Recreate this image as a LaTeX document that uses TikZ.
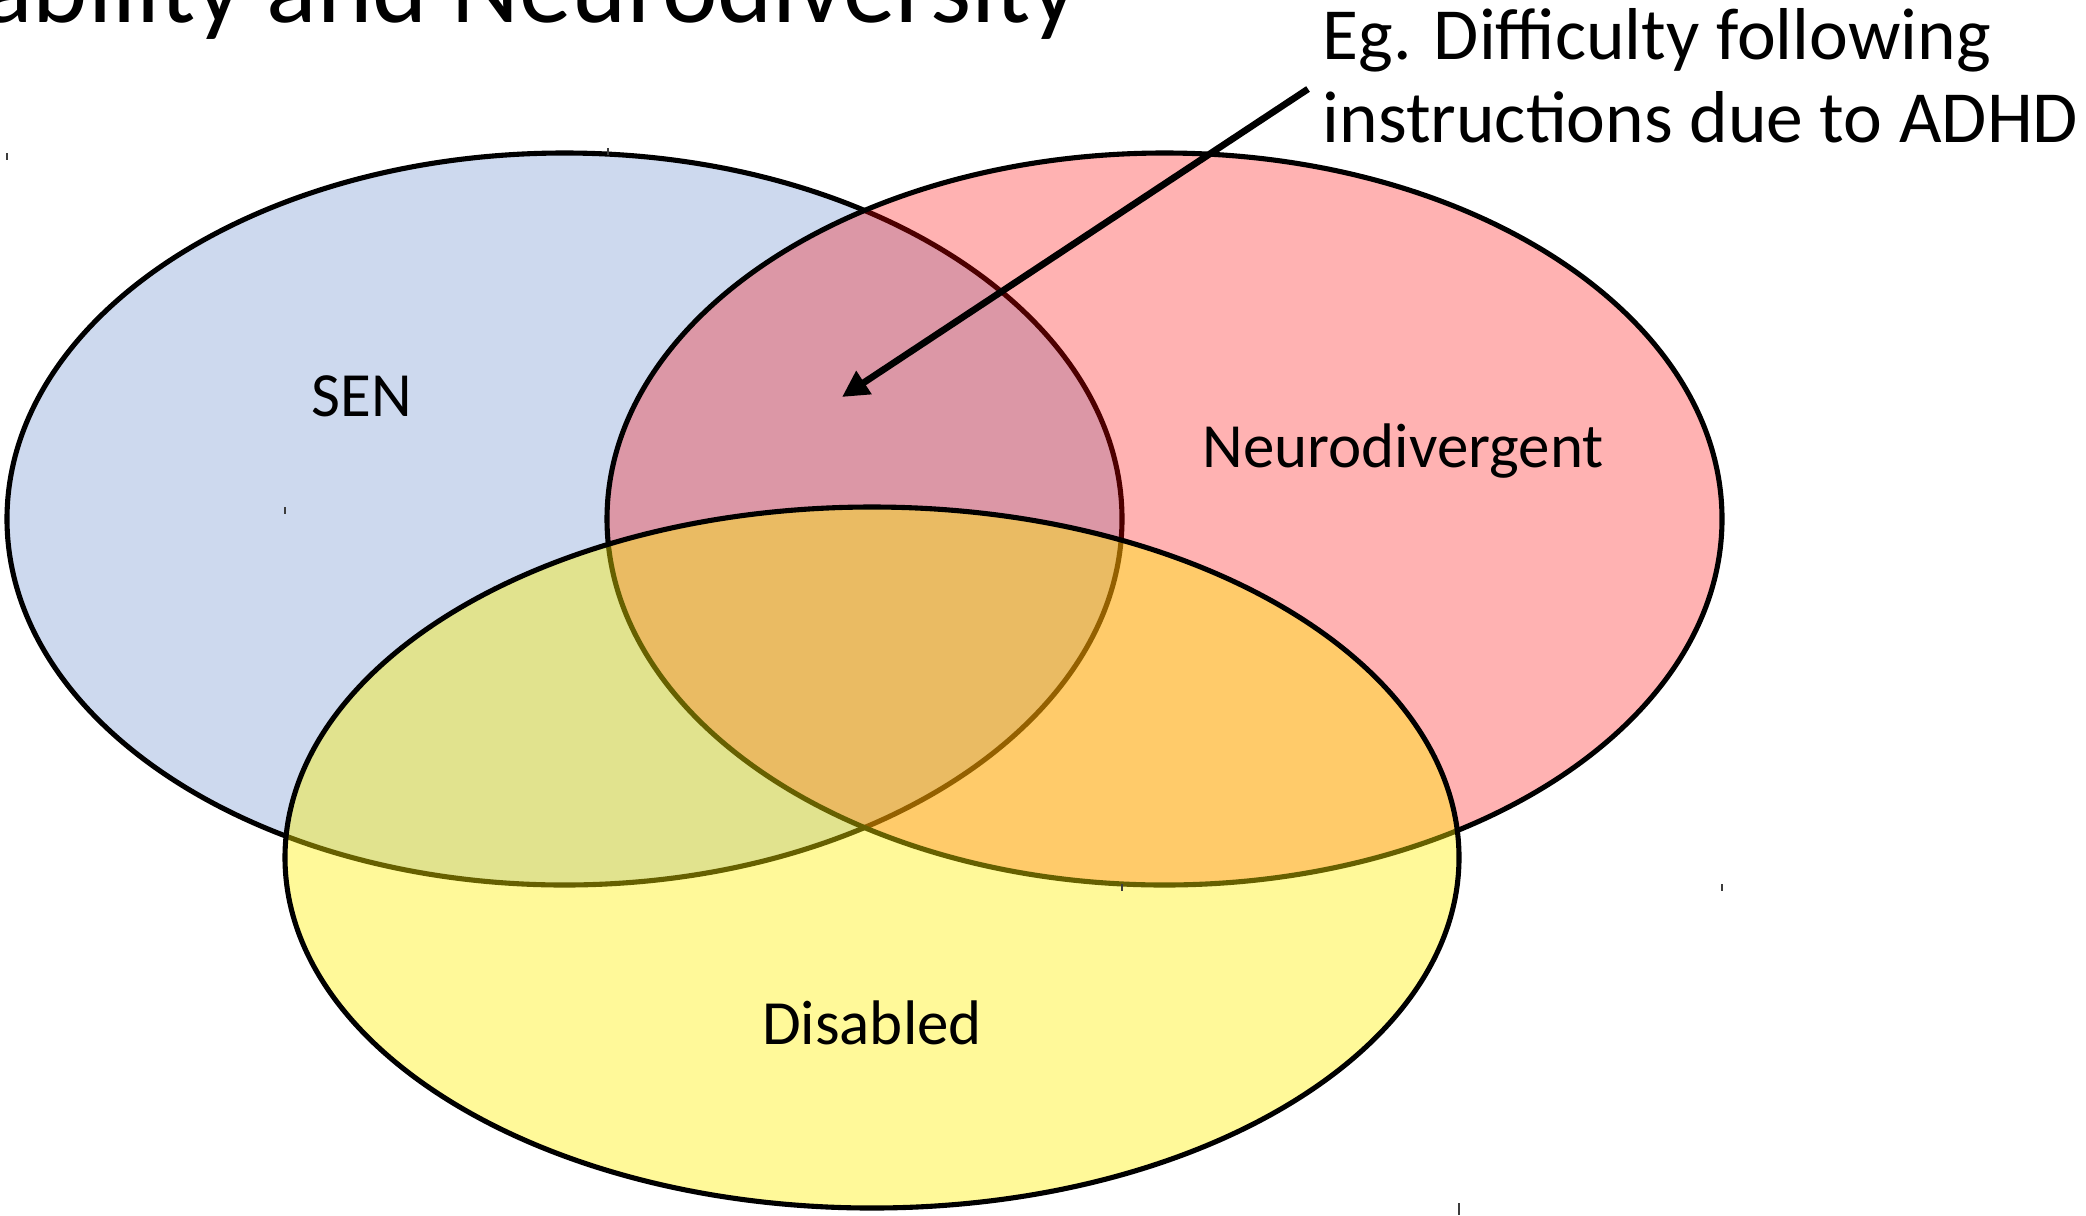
\documentclass[tikz,border=0pt]{standalone}
\usepackage{fontspec}
\setmainfont{Carlito}
\usetikzlibrary{arrows.meta}

\definecolor{senblue}{RGB}{205,217,238}
\definecolor{tickgrey}{RGB}{60,60,60}

\tikzset{
  setline/.style={line width=1.45pt, draw=black},
  label/.style={anchor=base, inner sep=0pt, font=\fontsize{17.9}{21}\selectfont},
  note/.style={anchor=base west, inner sep=0pt, font=\fontsize{20.9}{24}\selectfont},
  pointer/.style={line width=1.9pt, -{Triangle[length=7.5pt,width=7.5pt]}},
  corner/.style={line width=0.6pt, draw=tickgrey},
}

\begin{document}
\begin{tikzpicture}[x=0.01cm, y=-0.01cm]
  % page frame
  \clip (0,0) rectangle (2086,1215);
  \fill[white] (0,0) rectangle (2086,1215);

  % heading, running off the top of the page
  \node[anchor=base west, inner sep=0pt, font=\fontsize{29.9}{34}\selectfont]
    (heading) at (-148,22) {Disability and Neurodiversity};

  % the three sets
  \filldraw[setline, fill=senblue] (564.5,519) ellipse [x radius=557.5, y radius=366];
  \filldraw[setline, fill=red, fill opacity=0.3] (1164.5,519) ellipse [x radius=557.5, y radius=366];
  \filldraw[setline, fill=yellow, fill opacity=0.4] (872,857.5) ellipse [x radius=587, y radius=350.5];

  % small corner marks of the set outlines
  \draw[corner] (7,153) -- (7,160);
  \draw[corner] (1122,884) -- (1122,891);
  \draw[corner] (608,148) -- (608,155);
  \draw[corner] (1722,884) -- (1722,891);
  \draw[corner] (285,507) -- (285,514);
  \draw[corner] (1459,1203) -- (1459,1215);

  % set names
  \node[label] (sen) at (362,416) {SEN};
  \node[label] (neuro) at (1403,467) {Neurodivergent};
  \node[label] (dis) at (872,1044) {Disabled};

  % example note with pointer into the SEN / Neurodivergent overlap
  \node[note] (note1) at (1322,59.5) {Eg. Difficulty following};
  \node[note] (note2) at (1322,142) {instructions due to ADHD};
  \coordinate (tail) at (1308,89);
  \coordinate (tip) at (842,397);
  \draw[pointer] (tail) -- (tip);
\end{tikzpicture}
\end{document}
